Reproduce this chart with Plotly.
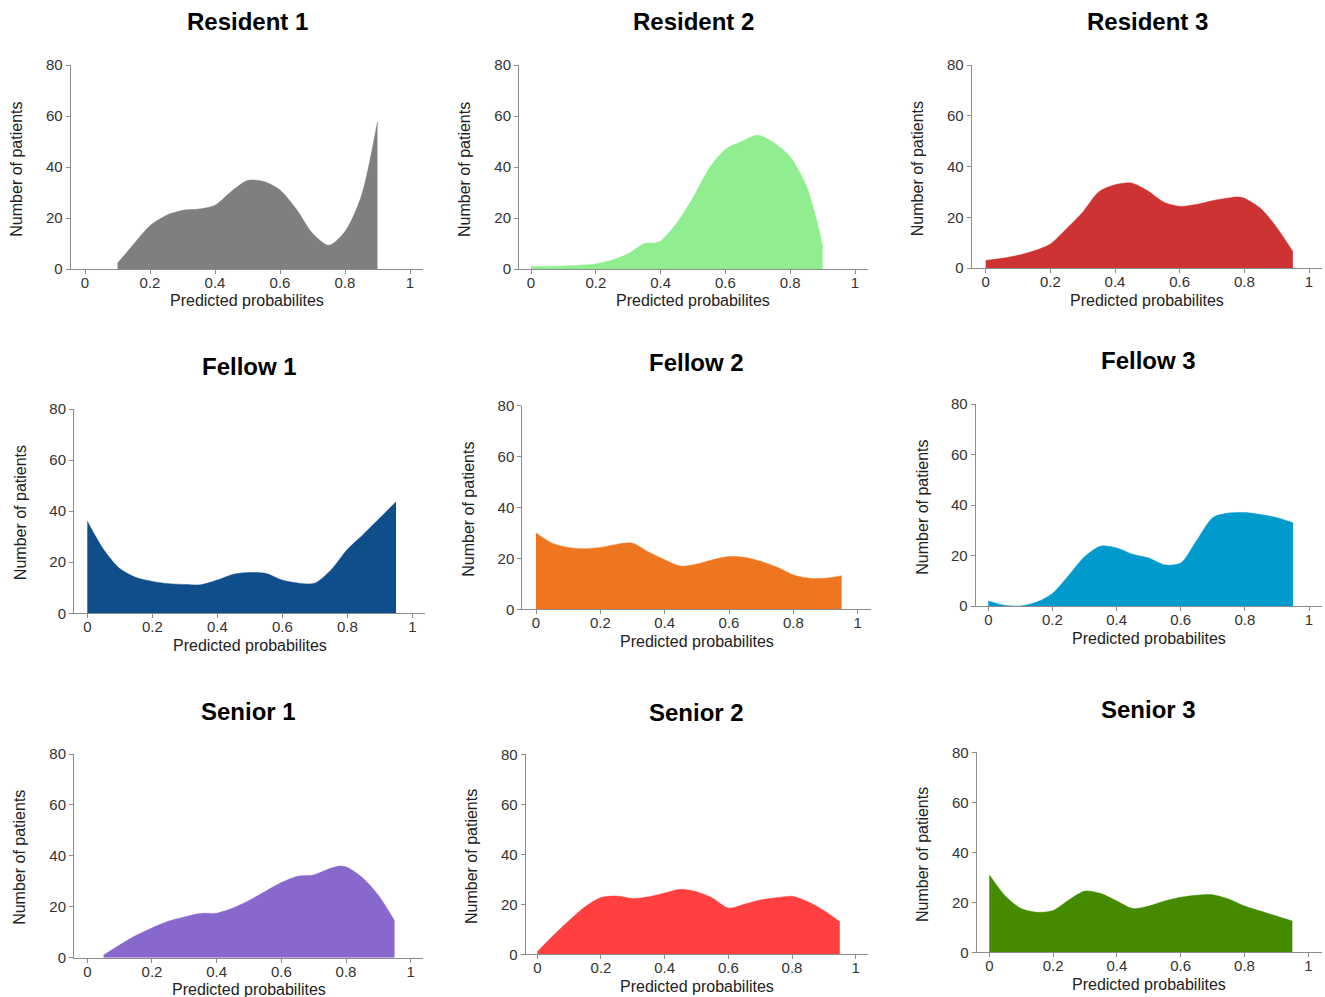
import plotly.graph_objects as go

W, H = 1325, 997

panel_titles = ["Resident 1", "Resident 2", "Resident 3",
                "Fellow 1", "Fellow 2", "Fellow 3",
                "Senior 1", "Senior 2", "Senior 3"]
colors = ["#7F7F7F", "#90EE90", "#CD3333",
          "#104E8B", "#EE7621", "#009ACD",
          "#8968CD", "#FF4040", "#458B00"]

x_res1 = [0.10, 0.125, 0.15, 0.20, 0.25, 0.30, 0.35, 0.40, 0.45, 0.50, 0.55, 0.60, 0.65, 0.70, 0.75, 0.80, 0.85, 0.90]
y_res1 = [2.3, 6.0, 9.8, 17.0, 21.0, 23.0, 23.5, 25.0, 30.4, 34.7, 34.3, 31.0, 23.5, 14.0, 9.3, 14.7, 28.5, 57.8]

x_res2 = [0.0, 0.05, 0.10, 0.15, 0.20, 0.25, 0.30, 0.35, 0.38, 0.40, 0.45, 0.50, 0.55, 0.60, 0.65, 0.70, 0.75, 0.80, 0.85, 0.88, 0.90]
y_res2 = [1.0, 1.0, 1.2, 1.5, 2.0, 3.5, 6.0, 10.0, 10.2, 11.0, 18.0, 28.0, 39.5, 47.0, 50.0, 52.5, 49.5, 44.0, 32.5, 20.0, 9.0]

x_res3 = [0.0, 0.05, 0.10, 0.15, 0.20, 0.25, 0.30, 0.35, 0.40, 0.45, 0.50, 0.55, 0.60, 0.65, 0.70, 0.75, 0.78, 0.80, 0.85, 0.90, 0.95]
y_res3 = [3.0, 3.8, 5.0, 6.8, 9.5, 15.5, 22.0, 30.0, 32.8, 33.5, 30.5, 26.0, 24.3, 25.0, 26.5, 27.6, 28.0, 27.5, 23.5, 16.0, 6.5]

x_fel1 = [0.0, 0.05, 0.10, 0.15, 0.20, 0.25, 0.30, 0.35, 0.40, 0.45, 0.50, 0.55, 0.60, 0.65, 0.70, 0.75, 0.80, 0.85, 0.90, 0.95]
y_fel1 = [36.0, 25.0, 17.5, 14.0, 12.5, 11.6, 11.3, 11.2, 13.0, 15.3, 16.0, 15.6, 13.0, 11.8, 11.8, 17.0, 25.0, 31.0, 37.3, 43.7]

x_fel2 = [0.0, 0.05, 0.10, 0.15, 0.20, 0.25, 0.30, 0.35, 0.40, 0.45, 0.50, 0.55, 0.60, 0.65, 0.70, 0.75, 0.80, 0.85, 0.90, 0.95]
y_fel2 = [30.0, 26.0, 24.3, 23.8, 24.3, 25.5, 26.0, 22.5, 19.5, 17.0, 17.8, 19.5, 20.7, 20.4, 18.8, 16.5, 13.5, 12.2, 12.2, 13.2]

x_fel3 = [0.0, 0.05, 0.10, 0.15, 0.20, 0.25, 0.30, 0.35, 0.40, 0.45, 0.50, 0.55, 0.60, 0.65, 0.70, 0.75, 0.80, 0.85, 0.90, 0.95]
y_fel3 = [2.0, 0.3, 0.0, 1.5, 5.0, 12.0, 19.5, 23.7, 23.0, 20.5, 19.0, 16.3, 17.0, 26.0, 35.0, 36.8, 37.0, 36.2, 35.0, 33.0]

x_sen1 = [0.05, 0.10, 0.15, 0.20, 0.25, 0.30, 0.35, 0.40, 0.45, 0.50, 0.55, 0.60, 0.65, 0.70, 0.75, 0.78, 0.80, 0.85, 0.90, 0.95]
y_sen1 = [1.0, 5.0, 8.7, 11.7, 14.3, 16.0, 17.4, 17.5, 19.5, 22.5, 26.0, 29.5, 32.0, 32.5, 35.0, 36.0, 35.7, 31.5, 24.5, 14.5]

x_sen2 = [0.0, 0.05, 0.10, 0.15, 0.20, 0.25, 0.30, 0.35, 0.40, 0.45, 0.50, 0.55, 0.60, 0.65, 0.70, 0.75, 0.80, 0.85, 0.90, 0.95]
y_sen2 = [1.0, 7.5, 13.5, 19.0, 22.7, 23.3, 22.3, 23.0, 24.5, 26.0, 25.0, 22.5, 18.5, 20.0, 21.7, 22.6, 23.2, 21.0, 17.5, 13.0]

x_sen3 = [0.0, 0.05, 0.10, 0.15, 0.20, 0.25, 0.30, 0.35, 0.40, 0.45, 0.50, 0.55, 0.60, 0.65, 0.70, 0.75, 0.80, 0.85, 0.90, 0.95]
y_sen3 = [31.0, 22.5, 17.5, 16.0, 16.7, 21.0, 24.5, 23.5, 20.5, 17.5, 18.5, 20.5, 22.0, 22.8, 23.0, 21.3, 18.5, 16.5, 14.5, 12.5]

xs = [x_res1, x_res2, x_res3, x_fel1, x_fel2, x_fel3, x_sen1, x_sen2, x_sen3]
ys = [y_res1, y_res2, y_res3, y_fel1, y_fel2, y_fel3, y_sen1, y_sen2, y_sen3]

x_tickvals = [0, 0.2, 0.4, 0.6, 0.8, 1]
x_ticktext = ["0", "0.2", "0.4", "0.6", "0.8", "1"]
y_tickvals = [0, 20, 40, 60, 80]
x_title = "Predicted probabilites"
y_title = "Number of patients"

# pixel geometry per panel: axis left, x=0 px, x=1 px, axis right, top(y=80), bottom(y=0)
geom = [
    (70.7, 85.0, 410.0, 423.0, 65.0, 269.0),
    (519.0, 531.0, 855.0, 867.7, 65.0, 269.0),
    (971.7, 985.7, 1309.0, 1321.7, 65.0, 268.0),
    (74.0, 87.3, 412.3, 425.0, 409.0, 613.3),
    (522.3, 536.0, 857.7, 871.0, 405.7, 609.3),
    (975.7, 988.3, 1309.0, 1321.7, 404.0, 606.0),
    (74.0, 87.3, 410.7, 423.3, 754.0, 957.7),
    (525.7, 537.3, 855.7, 867.7, 754.3, 954.3),
    (976.7, 989.3, 1308.3, 1321.7, 752.3, 952.3),
]
title_pos = [(247, 21), (693, 21), (1147, 21),
             (249, 366), (697, 362), (1148, 361),
             (248, 711), (696, 712), (1148, 709)]

FONT = "Liberation Sans, Arial, sans-serif"
AXC = "#8c8c8c"
TXC = "#333333"

fig = go.Figure()
layout = dict(width=W, height=H,
              margin=dict(l=0, r=0, t=0, b=0, pad=0, autoexpand=False),
              paper_bgcolor="white", plot_bgcolor="white", showlegend=False,
              font=dict(family=FONT, color=TXC))
annotations = []

for i in range(9):
    L, X0, X1, R, T, B = geom[i]
    span = X1 - X0
    lo = -(X0 - L) / span
    hi = 1 + (R - X1) / span
    xa = "xaxis" if i == 0 else f"xaxis{i+1}"
    ya = "yaxis" if i == 0 else f"yaxis{i+1}"
    xr = "x" if i == 0 else f"x{i+1}"
    yr = "y" if i == 0 else f"y{i+1}"
    fig.add_trace(go.Scatter(x=xs[i], y=ys[i], mode="lines", fill="tozeroy",
                             fillcolor=colors[i],
                             line=dict(color=colors[i], width=0.5, shape="spline", smoothing=0.8),
                             xaxis=xr, yaxis=yr, hoverinfo="skip"))
    layout[xa] = dict(domain=[L / W, R / W], range=[lo, hi], anchor=yr,
                      showline=True, linecolor=AXC, linewidth=1,
                      ticks="outside", ticklen=4, tickcolor=AXC, tickwidth=1,
                      tickvals=x_tickvals, ticktext=x_ticktext,
                      ticklabelstandoff=-4,
                      tickfont=dict(size=15, color=TXC, family=FONT),
                      showgrid=False, zeroline=False, fixedrange=True, automargin=False)
    layout[ya] = dict(domain=[1 - B / H, 1 - T / H], range=[0, 80], anchor=xr,
                      showline=True, linecolor=AXC, linewidth=1,
                      ticks="outside", ticklen=4, tickcolor=AXC, tickwidth=1,
                      tickvals=y_tickvals,
                      tickfont=dict(size=15, color=TXC, family=FONT),
                      showgrid=False, zeroline=False, fixedrange=True, automargin=False)
    tx, ty = title_pos[i]
    annotations.append(dict(text=f"<b>{panel_titles[i]}</b>", xref="paper", yref="paper",
                            x=tx / W, y=1 - ty / H, xanchor="center", yanchor="middle",
                            showarrow=False, font=dict(size=24, color="#000000", family=FONT)))
    annotations.append(dict(text=x_title, xref="paper", yref="paper",
                            x=((X0 + X1) / 2) / W, y=1 - (B + 32) / H,
                            xanchor="center", yanchor="middle", showarrow=False,
                            font=dict(size=16, color="#222222", family=FONT)))
    annotations.append(dict(text=y_title, xref="paper", yref="paper",
                            x=(L - 54) / W, y=1 - ((T + B) / 2 + 2) / H,
                            xanchor="center", yanchor="middle", textangle=-90, showarrow=False,
                            font=dict(size=16, color="#222222", family=FONT)))

layout["annotations"] = annotations
fig.update_layout(**layout)
fig.write_html("out.html")
